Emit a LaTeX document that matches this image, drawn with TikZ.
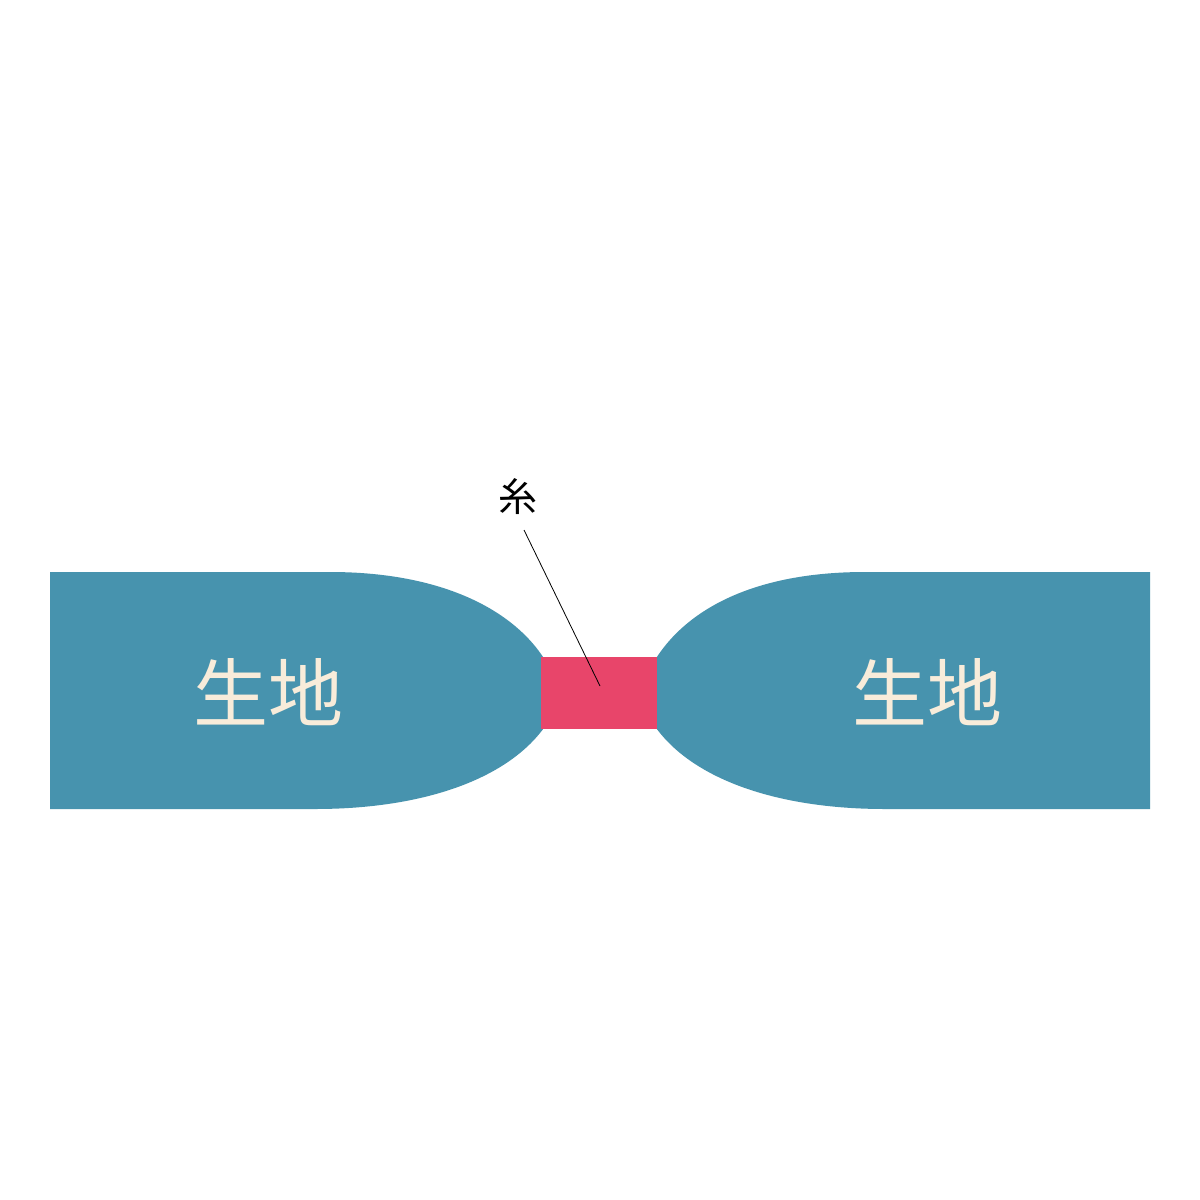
\documentclass[tikz,border=0pt]{standalone}
\usepackage{fontspec}
\newfontfamily\cjk{Noto Sans CJK JP}
\definecolor{teal}{RGB}{71,147,174}
\definecolor{threadpink}{RGB}{232,69,106}
\definecolor{cream}{RGB}{248,236,218}
\begin{document}
\begin{tikzpicture}[x=1pt,y=-1pt,
  cloth/.style={fill=teal,draw=none},
  clothlabel/.style={text=cream,font=\cjk\fontsize{75}{75}\selectfont,inner sep=0pt},
  leader/.style={draw=black,line width=0.8pt}]
\useasboundingbox (0,0) rectangle (1200,1200);
\fill[white] (0,0) rectangle (1200,1200);
% left cloth
\path[cloth] (50,572) -- (330,572) .. controls (445,572) and (518,612) .. (548,665)
  -- (548,722) .. controls (512,778) and (425,809) .. (315,809) -- (50,809) -- cycle;
% right cloth
\path[cloth] (1150,572) -- (865,572) .. controls (750,572) and (682,612) .. (652,665)
  -- (652,722) .. controls (688,778) and (775,809) .. (885,809) -- (1150,809) -- cycle;
% thread
\node[fill=threadpink,minimum width=116pt,minimum height=72pt,inner sep=0pt,draw=none] (thread) at (599,693) {};
\node[clothlabel] (l) at (268,692) {生地};
\node[clothlabel] (r) at (927,692) {生地};
\node[font=\cjk\fontsize{39}{39}\selectfont,inner sep=0pt] (ito) at (518,497) {糸};
\coordinate (tip) at (600,686);
\draw[leader] (524,530) -- (tip);
\end{tikzpicture}
\end{document}
